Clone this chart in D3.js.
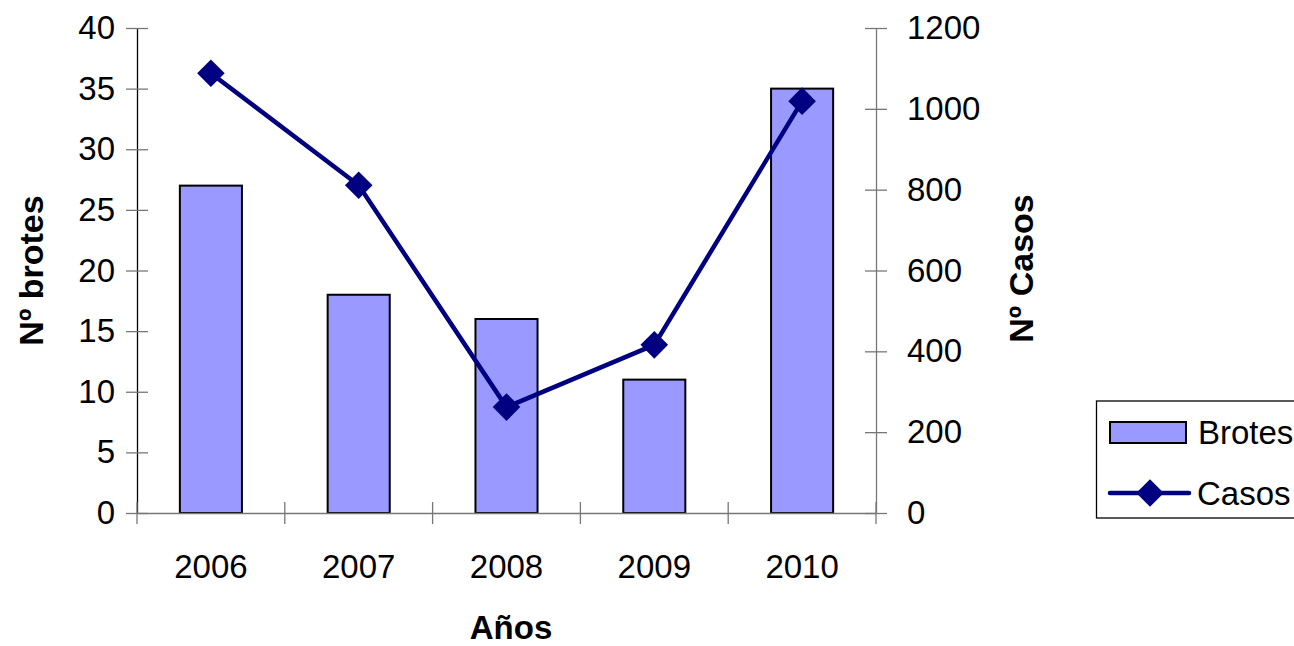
<!DOCTYPE html>
<html><head><meta charset="utf-8">
<script src="https://cdn.jsdelivr.net/npm/d3@7"></script>
<style>body{margin:0;background:#fff;overflow:hidden}</style>
</head><body>
<svg id="c" width="1294" height="646"></svg>
<script>
const years = ["2006","2007","2008","2009","2010"];
const brotes = [27, 18, 16, 11, 35];
const casos = [1088, 811, 262, 416, 1019];
const leftTicks = [0,5,10,15,20,25,30,35,40];
const rightTicks = [0,200,400,600,800,1000,1200];

const svg = d3.select("#c");
const font = "'Liberation Sans', Arial, sans-serif";
const x0 = 137, x1 = 876, yTop = 28, yBot = 513;
const fs = 33;

const x = d3.scaleBand().domain(years).range([x0, x1]).paddingInner(0.58).paddingOuter(0.29);
const yL = d3.scaleLinear().domain([0,40]).range([yBot, yTop]);
const yR = d3.scaleLinear().domain([0,1200]).range([yBot, yTop]);

// bars
svg.append("g").selectAll("rect").data(years).join("rect")
  .attr("x", d => x(d)).attr("width", x.bandwidth())
  .attr("y", (d,i) => yL(brotes[i])).attr("height", (d,i) => yBot - yL(brotes[i]))
  .attr("fill", "#9999FF").attr("stroke", "#000").attr("stroke-width", 2);

// left axis
const gl = svg.append("g").attr("transform", `translate(${x0},0)`)
  .call(d3.axisLeft(yL).tickValues(leftTicks).tickSize(0).tickPadding(22));
gl.select(".domain").attr("stroke", "#000").attr("stroke-width", 1.3);
gl.selectAll(".tick line").remove();
gl.selectAll(".tick").append("line").attr("x1", -11).attr("x2", 11).attr("stroke", "#777").attr("stroke-width", 1.3);
gl.selectAll("text").attr("font-family", font).attr("font-size", fs).attr("fill", "#000");

// right axis
const gr = svg.append("g").attr("transform", `translate(${x1},0)`)
  .call(d3.axisRight(yR).tickValues(rightTicks).tickFormat(d3.format("d")).tickSize(0).tickPadding(31));
gr.select(".domain").attr("stroke", "#777").attr("stroke-width", 1.3);
gr.selectAll(".tick line").remove();
gr.selectAll(".tick").append("line").attr("x1", -11).attr("x2", 11).attr("stroke", "#777").attr("stroke-width", 1.3);
gr.selectAll("text").attr("font-family", font).attr("font-size", fs).attr("fill", "#000");

// bottom axis
const gb = svg.append("g").attr("transform", `translate(0,${yBot})`)
  .call(d3.axisBottom(x).tickSize(0).tickPadding(42));
gb.select(".domain").attr("stroke", "#777").attr("stroke-width", 1.3);
gb.selectAll("text").attr("font-family", font).attr("font-size", fs).attr("fill", "#000");
const bounds = d3.range(years.length + 1).map(i => x0 + (x1 - x0) * i / years.length);
gb.append("g").selectAll("line").data(bounds).join("line")
  .attr("x1", d => d).attr("x2", d => d).attr("y1", -11).attr("y2", 11)
  .attr("stroke", "#777").attr("stroke-width", 1.3);

// line
const cx = (d) => x(d) + x.bandwidth()/2;
svg.append("path").datum(years)
  .attr("d", d3.line().x(d => cx(d)).y((d,i) => yR(casos[i])))
  .attr("fill", "none").attr("stroke", "#000080").attr("stroke-width", 4.5);
const diamond = d3.symbol().type(d3.symbolSquare).size(380);
svg.append("g").selectAll("path").data(years).join("path")
  .attr("d", diamond())
  .attr("transform", (d,i) => `translate(${cx(d)},${yR(casos[i])}) rotate(45)`)
  .attr("fill", "#000080");

// axis titles
svg.append("text").attr("transform", `translate(43,${(yTop+yBot)/2}) rotate(-90)`)
  .attr("text-anchor", "middle").attr("font-family", font).attr("font-weight", "bold")
  .attr("font-size", 34).text("Nº brotes");
svg.append("text").attr("transform", `translate(1033,${(yTop+yBot)/2 - 2}) rotate(-90)`)
  .attr("text-anchor", "middle").attr("font-family", font).attr("font-weight", "bold")
  .attr("font-size", 34).text("Nº Casos");
svg.append("text").attr("x", 511).attr("y", 639)
  .attr("text-anchor", "middle").attr("font-family", font).attr("font-weight", "bold")
  .attr("font-size", 33).text("Años");

// legend
const lg = svg.append("g");
lg.append("rect").attr("x", 1096.5).attr("y", 401).attr("width", 220).attr("height", 117)
  .attr("fill", "#fff").attr("stroke", "#000").attr("stroke-width", 1.3);
lg.append("rect").attr("x", 1110).attr("y", 422).attr("width", 76).attr("height", 21)
  .attr("fill", "#9999FF").attr("stroke", "#000").attr("stroke-width", 2);
lg.append("text").attr("x", 1198).attr("y", 444).attr("font-family", font).attr("font-size", fs).text("Brotes");
lg.append("line").attr("x1", 1110).attr("x2", 1189).attr("y1", 493).attr("y2", 493)
  .attr("stroke", "#000080").attr("stroke-width", 4.5).attr("stroke-linecap", "round");
lg.append("path").attr("d", diamond()).attr("transform", "translate(1150,493) rotate(45)").attr("fill", "#000080");
lg.append("text").attr("x", 1197).attr("y", 505).attr("font-family", font).attr("font-size", fs).text("Casos");
</script>
</body></html>
